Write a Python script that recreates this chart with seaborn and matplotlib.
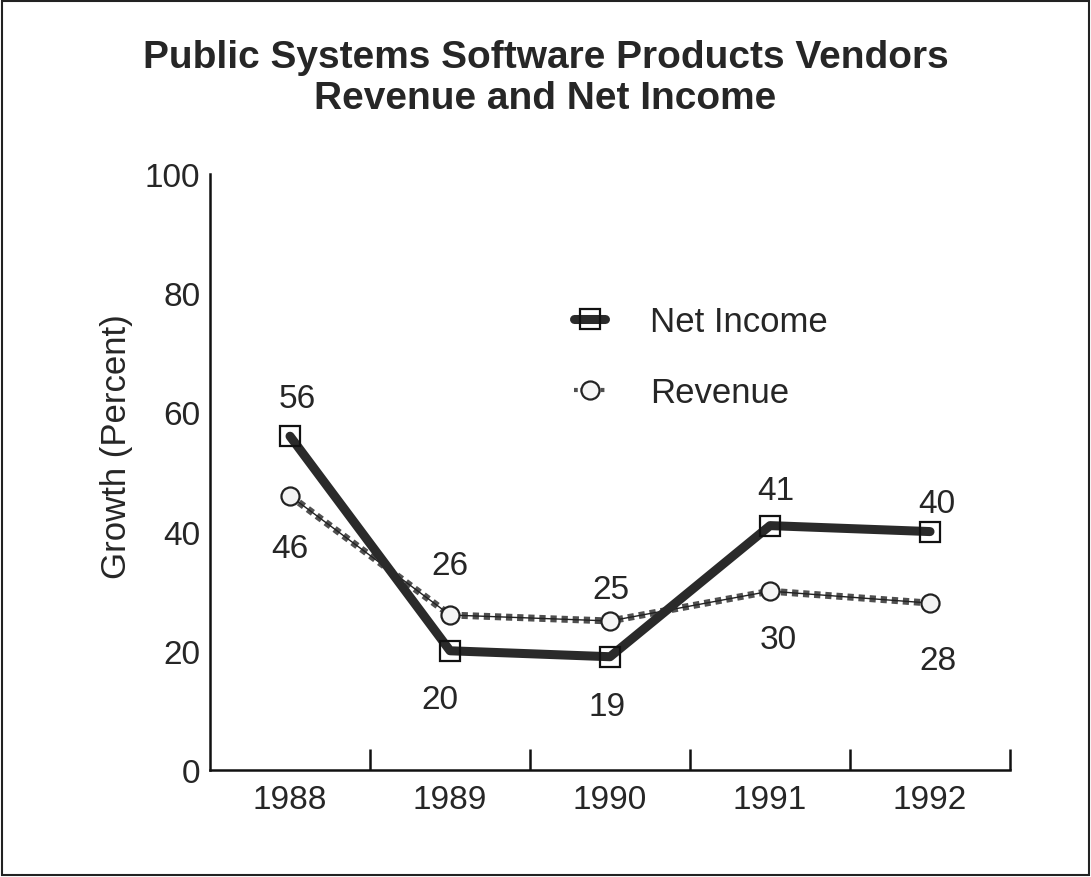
import pandas as pd
import numpy as np
import matplotlib
matplotlib.use("Agg")
import matplotlib.pyplot as plt
from matplotlib.patches import Rectangle
from matplotlib.lines import Line2D
import seaborn as sns

# ── Data ──────────────────────────────────────────────
years = ["1988", "1989", "1990", "1991", "1992"]
net_income = [56, 20, 19, 41, 40]
revenue = [46, 26, 25, 30, 28]

# label offsets (points) for the value annotations
net_offsets = [(5, 27), (-7, -35), (-2, -36), (4, 25), (5, 20)]
rev_offsets = [(0, -38), (0, 36), (1, 23), (6, -35), (6, -41)]

sns.set_style("white")
plt.rcParams["font.family"] = ["Liberation Sans", "DejaVu Sans"]

df = pd.DataFrame({"pos": range(len(years)), "net": net_income, "rev": revenue})

fig = plt.figure(figsize=(10.91, 8.78), dpi=100)
ax = fig.add_axes([0.1925, 0.1219, 0.7333, 0.6788])

# revenue: thin hatched-looking line
sns.lineplot(data=df, x="pos", y="rev", ax=ax, color="#505050", lw=5,
             linestyle=(0, (0.9, 0.7)), zorder=2)
sns.lineplot(data=df, x="pos", y="rev", ax=ax, color="#222222", lw=1.0, zorder=2,
             marker="o", markersize=13, markerfacecolor="#f4f4f4",
             markeredgecolor="#222222", markeredgewidth=1.6)
# net income: heavy dark line
sns.lineplot(data=df, x="pos", y="net", ax=ax, color="#2a2a2a", lw=6.5, zorder=3,
             marker="s", markersize=14, markerfacecolor="none",
             markeredgecolor="#111111", markeredgewidth=1.6)

# value labels
for i, v in enumerate(net_income):
    ax.annotate(str(v), (i, v), textcoords="offset points", xytext=net_offsets[i],
                ha="center", va="center", fontsize=24)
for i, v in enumerate(revenue):
    ax.annotate(str(v), (i, v), textcoords="offset points", xytext=rev_offsets[i],
                ha="center", va="center", fontsize=24)

ax.set_xlim(-0.5, 4.5)
ax.set_ylim(0, 100)
ax.set_yticks([0, 20, 40, 60, 80, 100])
ax.set_xticks(range(len(years)))
ax.set_xticklabels(years)
ax.set_xticks([0.5, 1.5, 2.5, 3.5, 4.5], minor=True)
ax.tick_params(axis="x", which="major", bottom=True, length=0, pad=10, labelsize=24)
ax.tick_params(axis="x", which="minor", bottom=True, direction="in", length=15,
               width=1.8, color="#111111")
ax.tick_params(axis="y", length=0, pad=7, labelsize=24)
ax.set_xlabel("")
ax.set_ylabel("Growth (Percent)", fontsize=25)
ax.yaxis.set_label_coords(-0.096, 0.544)

for s in ["top", "right"]:
    ax.spines[s].set_visible(False)
for s in ["left", "bottom"]:
    ax.spines[s].set_linewidth(1.8)
    ax.spines[s].set_color("#111111")
ax.set_facecolor("none")

# legend
h_net = Line2D([], [], color="#2a2a2a", lw=6.5, marker="s", markersize=14,
               markerfacecolor="none", markeredgecolor="#111111", markeredgewidth=1.6)
h_rev = Line2D([], [], color="#505050", lw=3, linestyle=(0, (0.9, 0.7)), marker="o",
               markersize=13, markerfacecolor="#f4f4f4", markeredgecolor="#222222",
               markeredgewidth=1.6)
ax.legend([h_net, h_rev], ["Net Income", "Revenue"], loc="upper left",
          bbox_to_anchor=(0.416, 0.833), frameon=False, fontsize=25,
          handlelength=0.9, labelspacing=1.1, handletextpad=1.3)

# title
fig.text(0.5, 1 - 40 / 878, "Public Systems Software Products Vendors\nRevenue and Net Income",
         ha="center", va="top", fontsize=28, fontweight="bold", linespacing=1.18)

# frame around the figure
fig.patches.append(Rectangle((0.002, 0.002), 0.996, 0.996, transform=fig.transFigure,
                             fill=False, lw=1.5, edgecolor="#222222"))

fig.savefig("out.png", dpi=100, facecolor="white")
